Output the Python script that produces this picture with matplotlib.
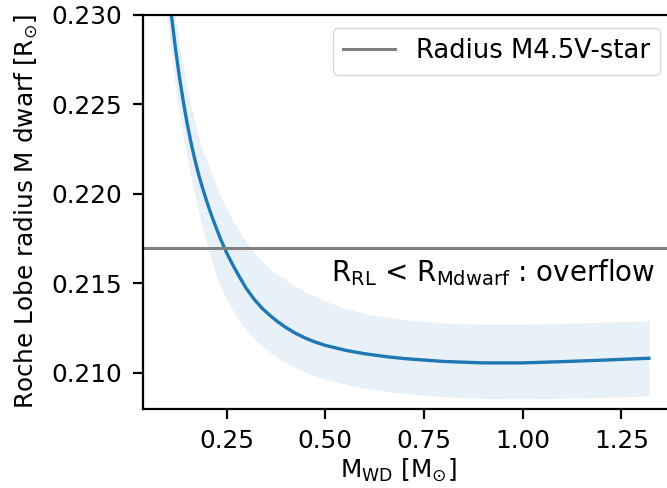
import numpy as np
import matplotlib
matplotlib.use("Agg")
import matplotlib.pyplot as plt

plt.rcParams['font.family'] = ['DejaVu Sans']
plt.rcParams['font.size'] = 17.8

# WD mass grid [Msun] and Roche lobe radius of the M dwarf [Rsun]
m_wd = [0.10, 0.11, 0.12, 0.13, 0.14, 0.15, 0.16, 0.17, 0.18, 0.19, 0.20, 0.21,
        0.22, 0.235, 0.25, 0.265, 0.28, 0.30, 0.32, 0.34, 0.36, 0.38, 0.40,
        0.425, 0.45, 0.475, 0.50, 0.55, 0.60, 0.65, 0.70, 0.80, 0.90, 1.00,
        1.10, 1.20, 1.32]
r_rl = [0.23198, 0.22998, 0.22818, 0.22658, 0.22518, 0.22393, 0.22283, 0.22186,
        0.22099, 0.22025, 0.21955, 0.21890, 0.21830, 0.21745, 0.21670, 0.21605,
        0.21545, 0.21470, 0.21410, 0.21360, 0.21320, 0.21284, 0.21253, 0.21220,
        0.21193, 0.21171, 0.21153, 0.21126, 0.21106, 0.21091, 0.21079, 0.21063,
        0.21055, 0.21055, 0.21062, 0.21070, 0.21081]
r_upper = [0.2333, 0.2316, 0.2299, 0.2284, 0.2271, 0.2259, 0.2249, 0.2240, 0.2231,
           0.2224, 0.2218, 0.2212, 0.2207, 0.21988, 0.21916, 0.21853, 0.21798,
           0.21732, 0.21674, 0.21624, 0.21582, 0.21548, 0.21520, 0.21483, 0.21450,
           0.21425, 0.21400, 0.21360, 0.21330, 0.21312, 0.21298, 0.21278, 0.21270,
           0.21270, 0.21276, 0.21282, 0.21290]
r_lower = [0.2298, 0.2278, 0.2260, 0.2245, 0.2232, 0.2220, 0.2209, 0.2199, 0.2189,
           0.2180, 0.2172, 0.2164, 0.2157, 0.2148, 0.2141, 0.2135, 0.2130, 0.2124,
           0.2119, 0.21148, 0.21112, 0.21082, 0.21055, 0.21027, 0.21003, 0.20982,
           0.20963, 0.20935, 0.20913, 0.20897, 0.20884, 0.20866, 0.20856, 0.20853,
           0.20857, 0.20862, 0.20870]

r_star = 0.217  # radius M4.5V star

fig = plt.figure(figsize=(6.67, 4.88), dpi=100)
ax = fig.add_axes([143/667, 1 - 408.5/488, 530/667, 393.5/488])

ax.fill_between(m_wd, r_lower, r_upper, color='#1f77b4', alpha=0.1, lw=0)
ax.plot(m_wd, r_rl, color='#1f77b4', lw=2.4)
ax.axhline(r_star, color='grey', lw=2.2, label='Radius M4.5V-star')

ax.text(0.514, 0.21509, r'R$_{\mathrm{RL}}$ < R$_{\mathrm{Mdwarf}}$ : overflow',
        va='baseline', ha='left', fontsize=20)

ax.set_xlim(0.038, 1.381)
ax.set_ylim(0.208, 0.230)
ax.set_xticks([0.25, 0.50, 0.75, 1.00, 1.25])
ax.set_yticks([0.210, 0.215, 0.220, 0.225, 0.230])
ax.set_xlabel(r'M$_{\mathrm{WD}}$ [M$_{\odot}$]', labelpad=2)
ax.set_ylabel(r'Roche Lobe radius M dwarf [R$_{\odot}$]', labelpad=8)
ax.xaxis.label.set_x(0.482)
ax.tick_params(length=7.5, width=1.6, pad=7.5)
for s in ax.spines.values():
    s.set_linewidth(1.6)

ax.legend(loc='upper right', fontsize=18.6)

fig.savefig('out.png', dpi=100)
